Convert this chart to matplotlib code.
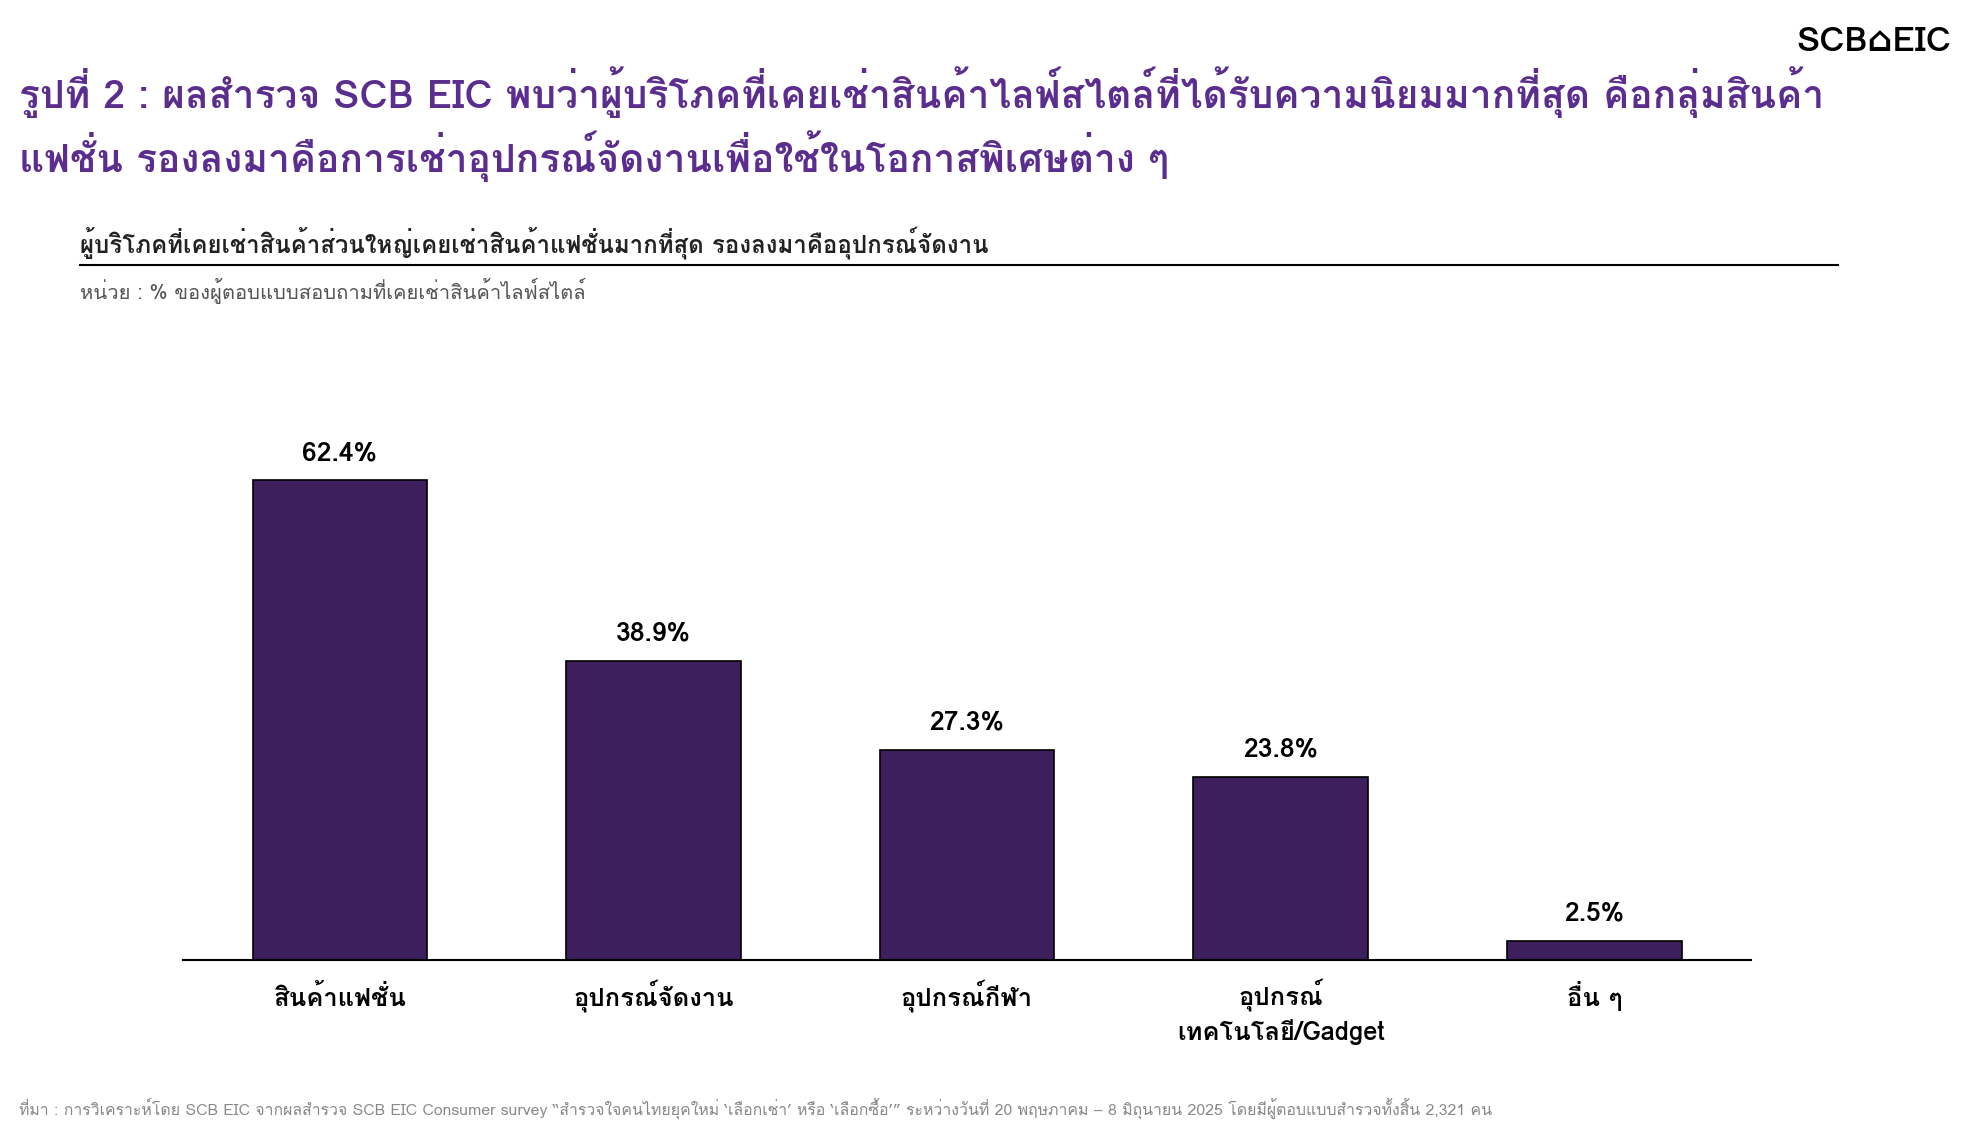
#!/usr/bin/env python3
"""
Bar chart: lifestyle product rental categories (SCB EIC survey).
"""

import matplotlib
matplotlib.use("Agg")
import matplotlib.pyplot as plt
from matplotlib import font_manager
from matplotlib.ft2font import FT2Font

categories = ["สินค้าแฟชั่น", "อุปกรณ์จัดงาน", "อุปกรณ์กีฬา", "อุปกรณ์\nเทคโนโลยี/Gadget", "อื่น ๆ"]
values = [62.4, 38.9, 27.3, 23.8, 2.5]
value_labels = ["62.4%", "38.9%", "27.3%", "23.8%", "2.5%"]

title_lines = [
    "รูปที่ 2 : ผลสำรวจ SCB EIC พบว่าผู้บริโภคที่เคยเช่าสินค้าไลฟ์สไตล์ที่ได้รับความนิยมมากที่สุด คือกลุ่มสินค้า",
    "แฟชั่น รองลงมาคือการเช่าอุปกรณ์จัดงานเพื่อใช้ในโอกาสพิเศษต่าง ๆ",
]
subtitle = "ผู้บริโภคที่เคยเช่าสินค้าส่วนใหญ่เคยเช่าสินค้าแฟชั่นมากที่สุด รองลงมาคืออุปกรณ์จัดงาน"
unit_text = "หน่วย : % ของผู้ตอบแบบสอบถามที่เคยเช่าสินค้าไลฟ์สไตล์"
source_text = ("ที่มา : การวิเคราะห์โดย SCB EIC จากผลสำรวจ SCB EIC Consumer survey “สำรวจใจคนไทยยุคใหม่ ‘เลือกเช่า’ หรือ ‘เลือกซื้อ’” "
               "ระหว่างวันที่ 20 พฤษภาคม – 8 มิถุนายน 2025 โดยมีผู้ตอบแบบสำรวจทั้งสิ้น 2,321 คน")

BAR_COLOR = "#3d1f5e"
TITLE_COLOR = "#5b2d8e"


def find_thai_fonts():
    # look for any installed family that actually has Thai glyphs
    names = []
    for f in font_manager.fontManager.ttflist:
        try:
            cmap = FT2Font(f.fname).get_charmap()
        except Exception:
            continue
        if 0x0E01 in cmap and f.name not in names:
            names.append(f.name)
    return names


thai = find_thai_fonts()
families = thai[:1] + ["DejaVu Sans"]
plt.rcParams["font.family"] = families

fig = plt.figure(figsize=(19.62, 11.32), dpi=100)

# titles
fig.text(0.0097, 0.919, title_lines[0], fontsize=28.1, fontweight="bold", color=TITLE_COLOR, va="center")
fig.text(0.0097, 0.862, title_lines[1], fontsize=28.1, fontweight="bold", color=TITLE_COLOR, va="center")
fig.text(0.9945, 0.963, "SCB⌂EIC", fontsize=25, fontweight="bold", color="black", ha="right", va="center")

fig.text(0.041, 0.786, subtitle, fontsize=17.3, fontweight="bold", color="#222222", va="center")
fig.add_artist(plt.Line2D([0.041, 0.937], [0.766, 0.766], color="black", lw=1.5, transform=fig.transFigure))
fig.text(0.041, 0.743, unit_text, fontsize=14.5, color="#555555", va="center")

fig.text(0.0097, 0.021, source_text, fontsize=11.4, color="#888888", va="center")

ax = fig.add_axes([0.0933, 0.1519, 0.7992, 0.4753])
x = range(len(categories))
ax.bar(x, values, width=0.557, color=BAR_COLOR, edgecolor="black", linewidth=1.2, zorder=2)
for xi, v, lab in zip(x, values, value_labels):
    ax.text(xi, v + 2.0, lab, ha="center", va="bottom", fontsize=19, fontweight="bold", color="black")

# category labels: baseline of first line ~33pt under the axis, next lines ~24.5pt apart
for xi, cat in zip(x, categories):
    extra = 24.5 * cat.count("\n")
    ax.annotate(cat, xy=(xi, 0), xycoords=("data", "axes fraction"),
                xytext=(0, -33 - extra), textcoords="offset points",
                ha="center", va="baseline", fontsize=18.4, fontweight="bold",
                linespacing=1.37, multialignment="center")

ax.set_xlim(-0.5, 4.5)
ax.set_ylim(0, 70)
ax.set_xticks([])
ax.set_yticks([])
for side in ["top", "right", "left"]:
    ax.spines[side].set_visible(False)
ax.spines["bottom"].set_linewidth(1.5)
ax.spines["bottom"].set_zorder(3)

plt.savefig("out.png", dpi=100)
